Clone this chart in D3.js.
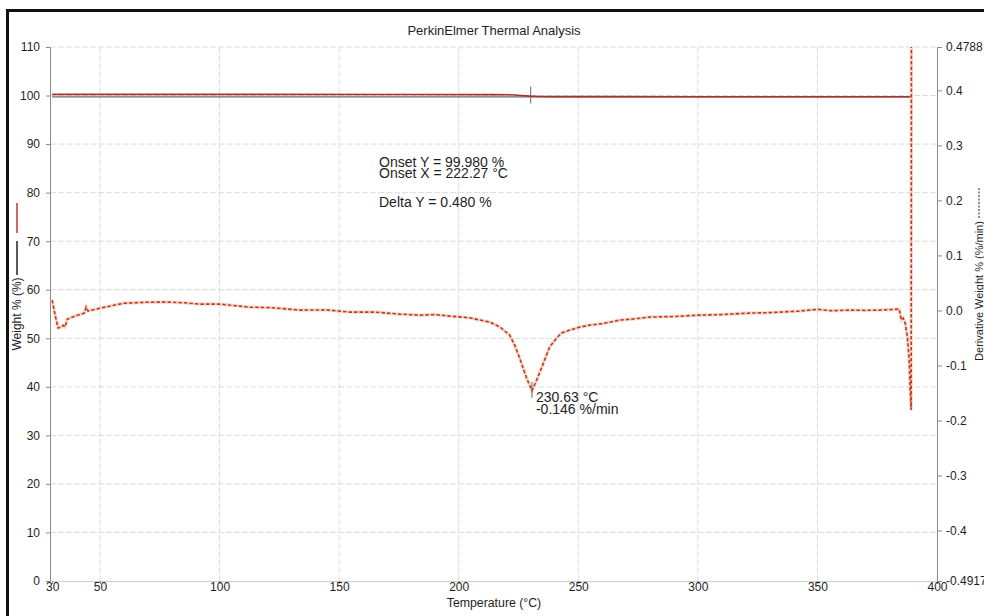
<!DOCTYPE html>
<html>
<head>
<meta charset="utf-8">
<script src="https://cdn.jsdelivr.net/npm/d3@7/dist/d3.min.js"></script>
<style>
  html, body { margin: 0; padding: 0; background: #fff; }
  svg { display: block; }
  text { font-family: Arial, "Liberation Sans", sans-serif; fill: #1e1e1e; }
</style>
</head>
<body>
<svg id="chart" width="984" height="616"></svg>
<script>
// Temperature axis ticks and the two value axes
const tempTicks = [30, 50, 100, 150, 200, 250, 300, 350, 400];
const weightTicks = [0, 10, 20, 30, 40, 50, 60, 70, 80, 90, 100, 110];
const derivTicks = [0.4788, 0.4, 0.3, 0.2, 0.1, 0.0, -0.1, -0.2, -0.3, -0.4, -0.4917];
const derivTickLabels = ["0.4788", "0.4", "0.3", "0.2", "0.1", "0.0", "-0.1", "-0.2", "-0.3", "-0.4", "-0.4917"];

// Weight % curves (red: sample run, black: reference trace)
const weightTemps = [30, 100, 180, 215, 222, 226, 230, 234, 240, 260, 300, 350, 389.2];
const weightRed   = [100.25, 100.24, 100.22, 100.2, 100.15, 100.02, 99.88, 99.8, 99.78, 99.77, 99.76, 99.75, 99.75];
const weightBlack = [99.72, 99.72, 99.72, 99.72, 99.72, 99.72, 99.72, 99.72, 99.72, 99.72, 99.72, 99.72, 99.72];

// Derivative weight % (%/min)
const derivTemps = [30, 31.25, 32.5, 33.8, 34.6, 35.4, 36.3, 39.6, 43.4, 44.2, 45.0, 50, 59.7, 70, 78, 85, 91.8,
  100, 112.7, 122, 133.6, 145, 154.5, 165, 175.4, 183.7, 190, 196.3, 204.6, 213, 217.1, 221.3, 223.4, 225.5, 228.4, 230.63,
  232.6, 235.9, 238.0, 240.9, 243, 246.4, 250, 254.7, 260, 267.3, 273, 279.8, 290, 300.7, 310, 321.6, 330, 342.5, 350, 356, 363.3, 370, 375.9, 384.2,
  385.1, 385.9, 386.7, 387.6, 388.4, 388.8, 389.2, 389.3];
const derivValues = [0.019, -0.0085, -0.032, -0.030, -0.027, -0.030, -0.016, -0.010, -0.005, 0.006, -0.001, 0.004, 0.013, 0.015, 0.0152, 0.014, 0.0115,
  0.0115, 0.006, 0.005, 0.0006, 0.001, -0.003, -0.003, -0.0067, -0.0085, -0.0075, -0.0103, -0.0134, -0.0212, -0.0297, -0.0448, -0.063, -0.0867, -0.123, -0.146,
  -0.1267, -0.0903, -0.0667, -0.0503, -0.041, -0.0357, -0.031, -0.0267, -0.024, -0.0176, -0.0155, -0.0121, -0.011, -0.0085, -0.0075, -0.0048, -0.004, -0.0012, 0.002, -0.0005, 0.0006, 0.0002, 0.0006, 0.0024,
  -0.0176, -0.014, -0.023, -0.048, -0.090, -0.145, -0.181, 0.60];

const peak = { t: 230.63, d: -0.146 };
const onsetMarkT = 230.1;

const svg = d3.select("#chart");
const plotL = 50, plotR = 937, plotT = 47, plotB = 581;

const x = d3.scaleLinear().domain([29.1, 400]).range([plotL, plotR]);
const yW = d3.scaleLinear().domain([0, 110]).range([plotB, plotT]);
const yD = d3.scaleLinear().domain([-0.4917, 0.4788]).range([plotB, plotT]);

// page frame
svg.append("rect").attr("x", 7.5).attr("y", 10.5).attr("width", 1000).attr("height", 700)
  .attr("fill", "none").attr("stroke", "#111").attr("stroke-width", 3);

svg.append("defs").append("clipPath").attr("id", "plotClip")
  .append("rect").attr("x", plotL).attr("y", plotT).attr("width", plotR - plotL).attr("height", plotB - plotT);

// grid
const grid = svg.append("g").attr("stroke", "#dcdcdc").attr("stroke-width", 1).attr("stroke-dasharray", "6,2");
weightTicks.filter(v => v > 0).forEach(v => {
  grid.append("line").attr("x1", plotL).attr("x2", plotR).attr("y1", yW(v)).attr("y2", yW(v));
});
tempTicks.filter(v => v > 30 && v < 400).forEach(v => {
  grid.append("line").attr("x1", x(v)).attr("x2", x(v)).attr("y1", plotT).attr("y2", plotB);
});

// axes
const axisColor = "#8a8a8a";
const axL = svg.append("g").attr("transform", `translate(${plotL},0)`)
  .call(d3.axisLeft(yW).tickValues(weightTicks).tickSize(4).tickPadding(6).tickFormat(d3.format("d")));
const axR = svg.append("g").attr("transform", `translate(${plotR},0)`)
  .call(d3.axisRight(yD).tickValues(derivTicks).tickSize(5).tickPadding(4)
    .tickFormat((d, i) => derivTickLabels[i]));
const axB = svg.append("g").attr("transform", `translate(0,${plotB})`)
  .call(d3.axisBottom(x).tickValues(tempTicks).tickSize(3).tickPadding(-3).tickFormat(d3.format("d")));
[axL, axR, axB].forEach(g => {
  g.select(".domain").attr("stroke", axisColor);
  g.selectAll(".tick line").attr("stroke", axisColor);
  g.selectAll(".tick text").attr("font-size", 12).attr("fill", "#1e1e1e")
    .attr("font-family", "Arial, 'Liberation Sans', sans-serif");
});
axB.select(".domain").attr("stroke", "#cfcfcf");
axB.selectAll(".tick text").attr("dy", "0.8em");

// curves
const plot = svg.append("g").attr("clip-path", "url(#plotClip)");
const lineW = d3.line().x(d => x(d[0])).y(d => yW(d[1]));
const lineD = d3.line().x(d => x(d[0])).y(d => yD(d[1]));

plot.append("path").datum(weightTemps.map((t, i) => [t, weightBlack[i]]))
  .attr("d", lineW).attr("fill", "none").attr("stroke", "#6a6a6a").attr("stroke-width", 1.2);
plot.append("path").datum(weightTemps.map((t, i) => [t, weightRed[i]]))
  .attr("d", lineW).attr("fill", "none").attr("stroke", "#a8332b").attr("stroke-width", 1.6);

const derivData = derivTemps.map((t, i) => [t, derivValues[i]]);
plot.append("path").datum(derivData)
  .attr("d", lineD).attr("fill", "none").attr("stroke", "#f3c6a8").attr("stroke-width", 3.5).attr("opacity", 0.6);
plot.append("path").datum(derivData)
  .attr("d", lineD).attr("fill", "none").attr("stroke", "#bf3a2b").attr("stroke-width", 1.6)
  .attr("stroke-dasharray", "3.5,2");

// markers
svg.append("line").attr("x1", x(onsetMarkT)).attr("x2", x(onsetMarkT))
  .attr("y1", yW(100) - 9).attr("y2", yW(100) + 8).attr("stroke", "#666").attr("stroke-width", 1);
svg.append("line").attr("x1", x(peak.t)).attr("x2", x(peak.t))
  .attr("y1", yD(peak.d) - 9).attr("y2", yD(peak.d) + 7).attr("stroke", "#666").attr("stroke-width", 1);

// annotations (multi-line blocks as a single text with tspans)
const ann = svg.append("g").attr("font-size", 14);
const onset = ann.append("text").attr("x", 379).attr("y", 167);
onset.append("tspan").attr("x", 379).text("Onset Y = 99.980 %");
onset.append("tspan").attr("x", 379).attr("dy", 11).text("Onset X = 222.27 °C");
ann.append("text").attr("x", 379).attr("y", 207).text("Delta Y = 0.480 %");
const pk = ann.append("text").attr("x", x(peak.t) + 4).attr("y", 402);
pk.append("tspan").attr("x", x(peak.t) + 4).text("230.63 °C");
pk.append("tspan").attr("x", x(peak.t) + 4).attr("dy", 11.5).text("-0.146 %/min");

// title and axis labels
svg.append("text").attr("x", 494).attr("y", 35).attr("text-anchor", "middle")
  .attr("font-size", 13).text("PerkinElmer Thermal Analysis");
svg.append("text").attr("x", 494).attr("y", 607).attr("text-anchor", "middle")
  .attr("font-size", 12.3).text("Temperature (°C)");

// left label with series swatches
svg.append("text").attr("transform", "translate(21,314) rotate(-90)").attr("text-anchor", "middle")
  .attr("font-size", 12).text("Weight % (%)");
svg.append("line").attr("x1", 17).attr("x2", 17).attr("y1", 241).attr("y2", 275)
  .attr("stroke", "#222").attr("stroke-width", 1.5);
svg.append("line").attr("x1", 17).attr("x2", 17).attr("y1", 203).attr("y2", 233)
  .attr("stroke", "#c0392b").attr("stroke-width", 1.5);

// right label with dashed swatch
svg.append("text").attr("transform", "translate(983,291) rotate(-90)").attr("text-anchor", "middle")
  .attr("font-size", 11).text("Derivative Weight % (%/min)");
svg.append("line").attr("x1", 979).attr("x2", 979).attr("y1", 188).attr("y2", 219)
  .attr("stroke", "#222").attr("stroke-width", 1).attr("stroke-dasharray", "2,1.5");
</script>
</body>
</html>
